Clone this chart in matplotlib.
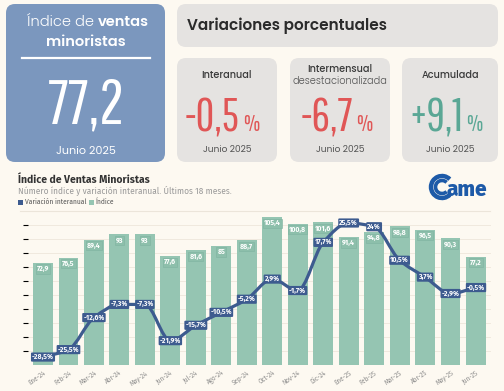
import numpy as np
import matplotlib
matplotlib.use("Agg")
import matplotlib.pyplot as plt
from matplotlib.patches import FancyBboxPatch, PathPatch, Arc
from matplotlib.path import Path

# =====================================================
# DATA
# =====================================================

months = ["Ene-24", "Feb-24", "Mar-24", "Abr-24", "May-24", "Jun-24",
          "Jul-24", "Ago-24", "Sep-24", "Oct-24", "Nov-24", "Dic-24",
          "Ene-25", "Feb-25", "Mar-25", "Abr-25", "May-25", "Jun-25"]
indice = [72.9, 76.5, 89.4, 93, 93, 77.6, 81.6, 85, 88.7, 105.4, 100.8,
          101.6, 91.4, 94.8, 98.8, 96.5, 90.3, 77.2]
var_ia = [-28.5, -25.5, -12.6, -7.3, -7.3, -21.9, -15.7, -10.5, -5.2, 2.9,
          -1.7, 17.7, 25.5, 24, 10.5, 3.7, -2.9, -0.5]

indice_actual = "77,2"
periodo = "Junio 2025"
kpi_titles = ["Interanual", "Intermensual", "Acumulada"]
kpi_values = ["-0,5", "-6,7", "+9,1"]

# =====================================================
# STYLE
# =====================================================

BG = "#fdf9f1"
BLUE_BOX = "#7b97be"
GRAY_BOX = "#e5e3e1"
BAR = "#95c5b2"
LINE = "#3d5b8f"
RED = "#e05656"
GREEN = "#5aa795"
LOGO = "#1d5aa8"

TOP_FONT = ["Poppins", "Lato", "DejaVu Sans"]
NARROW = ["Pathway Gothic One", "Antonio", "DejaVu Sans"]
CHART_FONT = ["Fira Sans", "Lato", "DejaVu Sans"]

fig = plt.figure(figsize=(5.04, 3.91), dpi=100, facecolor=BG)

# background axes in pixel units (origin top-left)
bg = fig.add_axes([0, 0, 1, 1])
bg.set_xlim(0, 504)
bg.set_ylim(391, 0)
bg.axis("off")


def box(x, y, w, h, color):
    bg.add_patch(FancyBboxPatch((x, y), w, h,
                                boxstyle="round,pad=0,rounding_size=9",
                                fc=color, ec="none"))


# =====================================================
# LEFT KPI BOX
# =====================================================

box(6, 4, 159, 158, BLUE_BOX)
bg.text(94, 23, "Índice de", ha="right", va="center", color="white",
        fontsize=10.5, fontweight=300, family=TOP_FONT)
bg.text(98, 23, "ventas", ha="left", va="center", color="white",
        fontsize=10.5, fontweight=600, family=TOP_FONT)
bg.text(86, 42, "minoristas", ha="center", va="center", color="white",
        fontsize=10.5, fontweight=600, family=TOP_FONT)
bg.plot([22, 150], [58, 58], color="white", lw=1.6)
bg.text(86, 123, indice_actual, ha="center", va="baseline", color="white",
        fontsize=45, family=NARROW)
bg.text(86, 151, periodo, ha="center", va="center", color="white",
        fontsize=8, family=TOP_FONT)

# =====================================================
# VARIACIONES PORCENTUALES
# =====================================================

box(177, 4, 321, 43, GRAY_BOX)
bg.text(187, 26, "Variaciones porcentuales", ha="left", va="center",
        color="#2b2b2b", fontsize=11, fontweight=600, family=TOP_FONT)

centers = [227, 340, 450]
lefts = [177, 290, 402]
widths = [100, 100, 96]
colors = [RED, RED, GREEN]
for i in range(3):
    box(lefts[i], 58, widths[i], 104, GRAY_BOX)
    if i == 1:
        bg.text(centers[i], 69, kpi_titles[i], ha="center", va="center",
                color="#3a3a3a", fontsize=7, fontweight=500, family=TOP_FONT)
        bg.text(centers[i], 82, "desestacionalizada", ha="center", va="center",
                color="#555555", fontsize=7, fontweight=300, family=TOP_FONT)
    else:
        bg.text(centers[i], 75, kpi_titles[i], ha="center", va="center",
                color="#3a3a3a", fontsize=7, fontweight=500, family=TOP_FONT)
    bg.text(centers[i] + 13, 131, kpi_values[i], ha="right", va="baseline",
            color=colors[i], fontsize=33, family=NARROW)
    bg.text(centers[i] + 16, 131, "%", ha="left", va="baseline",
            color=colors[i], fontsize=17, family=NARROW)
    bg.text(centers[i], 150, periodo, ha="center", va="center",
            color="#555555", fontsize=6.5, family=TOP_FONT)

# =====================================================
# CHART HEADER
# =====================================================

bg.text(18, 180, "Índice de Ventas Minoristas", ha="left", va="center",
        color="#333333", fontsize=7.5, fontweight="bold", family=CHART_FONT)
bg.text(18, 191, "Número índice y variación interanual. Últimos 18 meses.",
        ha="left", va="center", color="#9a9a9a", fontsize=6, family=CHART_FONT)
bg.add_patch(plt.Rectangle((18, 199.5), 5, 5, fc=LINE, ec="none"))
bg.text(25, 202, "Variación interanual", ha="left", va="center",
        color="#555555", fontsize=4.8, family=CHART_FONT)
bg.add_patch(plt.Rectangle((89, 199.5), 5, 5, fc=BAR, ec="none"))
bg.text(96, 202, "Índice", ha="left", va="center",
        color="#555555", fontsize=4.8, family=CHART_FONT)
bg.plot([20, 490], [211, 211], color="#ece5da", lw=0.8)

# logo
for r, w in [(11, 3.2), (6.5, 2.6)]:
    bg.add_patch(Arc((442, 187), 2 * r, 2 * r, theta1=45, theta2=315,
                     color=LOGO, lw=w))
bg.text(447, 196, "ame", ha="left", va="baseline", color=LOGO,
        fontsize=15, fontweight="heavy", family=CHART_FONT)

# =====================================================
# CHART
# =====================================================

ax = fig.add_axes([0.055, 0.0665, 0.9198, 0.3949])
ax.set_facecolor("none")
x = np.arange(len(months))

ax.bar(x, indice, width=0.78, color=BAR, zorder=2)
ax.set_xlim(-0.6, len(months) - 0.4)
ax.set_ylim(0, 110)
ax.set_yticks(np.arange(10, 110, 10))
ax.yaxis.grid(True, color="#eee7db", lw=0.6, zorder=0)
ax.set_axisbelow(True)
for s in ax.spines.values():
    s.set_visible(False)
ax.tick_params(axis="y", left=False, labelleft=False)
ax.tick_params(axis="x", length=0, pad=3)
ax.set_xticks(x)
ax.set_xticklabels(months, rotation=35, ha="right", rotation_mode="anchor",
                   fontsize=4.5, color="#8a8a8a", family=CHART_FONT)

for xi, v in zip(x, indice):
    ax.annotate(f"{v:g}".replace(".", ","), (xi, v), xytext=(0, -4.5),
                textcoords="offset points", ha="center", va="center",
                fontsize=5, color="white", fontweight="bold", family=CHART_FONT,
                bbox=dict(boxstyle="square,pad=0.15", fc="#8dbfab",
                          ec="#7fb3a0", lw=0.4), zorder=4)

# secondary axis for the interannual variation
ax2 = ax.twinx()
ax2.set_ylim(-31.7, 30.5)
ax2.axis("off")

# smooth monotone curve through the points (bezier path)
yv = np.array(var_ia, dtype=float)
d = np.diff(yv)
m = np.zeros(len(yv))
m[0], m[-1] = d[0], d[-1]
for i in range(1, len(yv) - 1):
    if d[i - 1] * d[i] > 0:
        m[i] = 2 / (1 / d[i - 1] + 1 / d[i])
verts = [(x[0], yv[0])]
codes = [Path.MOVETO]
for i in range(len(yv) - 1):
    verts += [(x[i] + 1 / 3, yv[i] + m[i] / 3),
              (x[i + 1] - 1 / 3, yv[i + 1] - m[i + 1] / 3),
              (x[i + 1], yv[i + 1])]
    codes += [Path.CURVE4] * 3
ax2.add_patch(PathPatch(Path(verts, codes), fc="none", ec=LINE, lw=2.3,
                        capstyle="round", joinstyle="round", zorder=3))

for xi, v in zip(x, var_ia):
    ax2.text(xi, v, f"{v:g}%".replace(".", ","), ha="center", va="center",
             fontsize=5, color="white", fontweight="bold", family=CHART_FONT,
             bbox=dict(boxstyle="round,pad=0.15", fc=LINE, ec="none"),
             zorder=5)

plt.savefig("out.png", dpi=100, facecolor=BG)
plt.close()
